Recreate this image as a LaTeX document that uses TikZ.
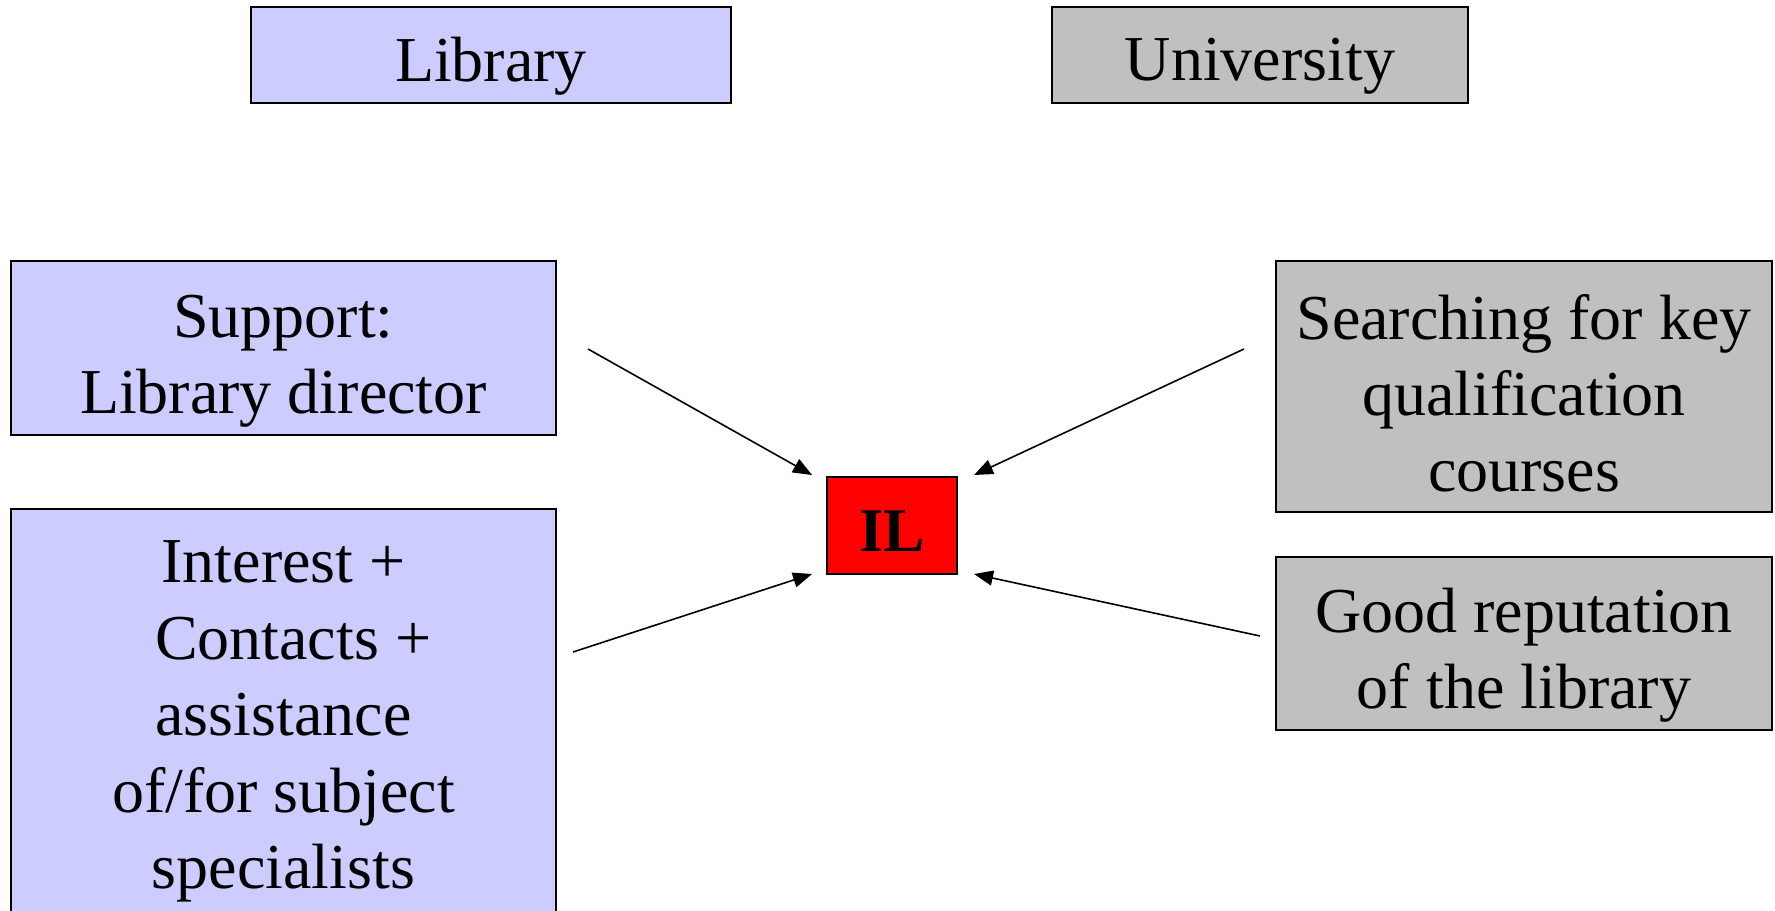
\documentclass[tikz,border=0pt]{standalone}
\usepackage{fontspec}
\setmainfont{Liberation Serif}
\usetikzlibrary{arrows.meta}
\definecolor{lav}{HTML}{CCCCFF}
\definecolor{gry}{HTML}{C0C0C0}
\definecolor{ilred}{HTML}{FF0000}
\begin{document}
\begin{tikzpicture}[x=0.5pt,y=-0.5pt,
  box/.style={draw=black,line width=1pt,inner sep=0pt},
  libbox/.style={box,fill=lav},
  unibox/.style={box,fill=gry},
  ilbox/.style={box,fill=ilred},
  lbl/.style={inner sep=0pt,align=center,font=\fontsize{32}{38}\selectfont},
  illbl/.style={inner sep=0pt,font=\fontsize{31}{37}\selectfont\bfseries},
  arr/.style={line width=0.8pt,-{Triangle[length=9.5pt,width=7.5pt]}}]
\useasboundingbox (0,0) rectangle (1775,910);
\clip (0,0) rectangle (1775,910);
\node[libbox,minimum width=240pt,minimum height=48pt] (lib) at (491,55) {};
\node[lbl] (libt) at (491,66) {Library};
\node[unibox,minimum width=208pt,minimum height=48pt] (uni) at (1260,55) {};
\node[lbl] (unit) at (1260,66) {University};
\node[libbox,minimum width=272.5pt,minimum height=87pt] (sup) at (283.5,348) {};
\node[lbl] (supt) at (283.5,361) {Support:\\Library director};
\node[libbox,minimum width=272.5pt,minimum height=210.5pt] (int) at (283.5,719.5) {};
\node[lbl,font=\fontsize{32}{38.3}\selectfont] (intt) at (283.5,721.5) {Interest +\\\hspace*{0.3em}Contacts +\\assistance\\of/for subject\\specialists};
\node[unibox,minimum width=248pt,minimum height=125.5pt] (sea) at (1524,386.5) {};
\node[lbl] (seat) at (1524,393) {Searching for key\\qualification\\courses};
\node[unibox,minimum width=248pt,minimum height=86.5pt] (rep) at (1524,643.5) {};
\node[lbl] (rept) at (1524,655) {Good reputation\\of the library};
\node[ilbox,minimum width=65pt,minimum height=48.5pt] (il) at (892,525.5) {};
\node[illbl] (ilt) at (892,531) {IL};
\coordinate (s1) at (588,349);
\coordinate (e1) at (812,475);
\coordinate (s2) at (1244,349);
\coordinate (e2) at (974,475);
\coordinate (s3) at (573,652);
\coordinate (e3) at (812,574);
\coordinate (s4) at (1260,636);
\coordinate (e4) at (974,574);
\draw[arr] (s1) -- (e1);
\draw[arr] (s2) -- (e2);
\draw[arr] (s3) -- (e3);
\draw[arr] (s4) -- (e4);
\end{tikzpicture}
\end{document}
